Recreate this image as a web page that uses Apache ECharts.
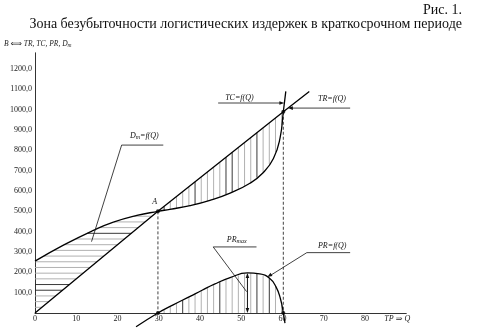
<!DOCTYPE html>
<html><head><meta charset="utf-8">
<script src="https://cdn.jsdelivr.net/npm/echarts/dist/echarts.min.js"></script>
<style>html,body{margin:0;padding:0;background:#fff}#c{width:478px;height:329px}</style>
</head><body><div id="c"></div>
<script>
// ---- data ----
const trQ = [0, 29.8, 60.2, 66.5];
const trV = [0, 500, 990, 1090];
const tcQ = [0, 7, 14, 19, 24.7, 29.8, 32.7, 37.6, 42.4, 47.3, 52.1, 55.3, 57.8, 59.4, 60.2, 60.8];
const tcV = [255, 335, 405, 447, 480, 500, 510, 528, 554, 590, 638, 690, 760, 860, 990, 1090];
const prQ = [24.5, 29.8, 33.5, 37.6, 40.5, 43.5, 47.3, 51.5, 54.5, 56.8, 58.4, 59.5, 60.2, 60.6];
const prV = [-68, 0, 40, 82, 112, 142, 174, 197, 192, 172, 130, 70, 0, -50];
const pointQ = [29.8, 29.8, 60.2, 60.2];
const pointV = [500, 0, 990, 0];
const prMaxQ = 51.5, prMaxV = 197;
const xTickValues = [0, 10, 20, 30, 40, 50, 60, 70, 80, 90];
const xTickLabels = ['0', '10', '20', '30', '40', '50', '60', '70', '80', '{i|TP ⇒ Q}'];
const yTickValues = [100, 200, 300, 400, 500, 600, 700, 800, 900, 1000, 1100, 1200];
const yTickLabels = ['100,0', '200,0', '300,0', '400,0', '500,0', '600,0', '700,0', '800,0', '900,0', '1000,0', '1100,0', '1200,0'];
const titleTop = 'Рис. 1.';
const titleMain = 'Зона безубыточности логистических издержек в краткосрочном периоде';

// ---- helpers ----
const zip = (a, b) => a.map((v, i) => [v, b[i]]);
function interp(xs, ys, x) {
  for (let i = 0; i < xs.length - 1; i++) {
    if (x >= xs[i] && x <= xs[i + 1]) return ys[i] + (ys[i + 1] - ys[i]) * (x - xs[i]) / (xs[i + 1] - xs[i]);
  }
  return null;
}
function inverse(xs, ys, v) {
  for (let i = 0; i < ys.length - 1; i++) {
    if (v >= ys[i] && v <= ys[i + 1]) return xs[i] + (xs[i + 1] - xs[i]) * (v - ys[i]) / (ys[i + 1] - ys[i]);
  }
  return null;
}
// hatch segments derived from the curves
const hatch = [];
let k = 0;
for (let v = 28; v < 500; v += 28, k++) {
  const xl = v <= tcV[0] ? 0 : inverse(tcQ, tcV, v);
  const xr = inverse(trQ, trV, v);
  hatch.push([xl, v, xr, v, (k === 3 || k === 4 || k === 13) ? 1 : 0]);
}
k = 0;
for (let q = 31.3; q < 60.2; q += 1.5, k++) {
  const lo = interp(tcQ, tcV, q), hi = interp(trQ, trV, q);
  if (hi > lo) hatch.push([q, lo, q, hi, (k % 5 === 0 || k === 11) ? 1 : 0]);
}
k = 0;
for (let q = 31.3; q < 60.2; q += 1.5, k++) {
  const hi = interp(prQ, prV, q);
  if (hi > 0) hatch.push([q, 0, q, hi, (k % 6 === 3 || k === 17) ? 1 : 0]);
}

const SERIF = '"Liberation Serif", "DejaVu Serif", serif';
const chart = echarts.init(document.getElementById('c'), null, {renderer: 'canvas'});

function annRender(params, api) {
  const c = p => api.coord(p);
  const kids = [];
  const line = (a, b, opt) => {
    const p = c(a), q = c(b);
    kids.push({type: 'line', shape: {x1: p[0], y1: p[1], x2: q[0], y2: q[1]},
      style: Object.assign({stroke: '#111', lineWidth: 0.8}, opt || {})});
  };
  const arrow = (from, tip) => {
    const p = c(from), t = c(tip);
    const dx = t[0] - p[0], dy = t[1] - p[1], L = Math.hypot(dx, dy);
    const ux = dx / L, uy = dy / L, len = 5, w = 1.8;
    const bx = t[0] - ux * len, by = t[1] - uy * len;
    kids.push({type: 'polygon', shape: {points: [[t[0], t[1]], [bx - uy * w, by + ux * w], [bx + uy * w, by - ux * w]]},
      style: {fill: '#111'}});
  };
  const text = (at, str, align, rich) => {
    const p = c(at);
    kids.push({type: 'text', style: {text: str, x: p[0], y: p[1], align: align || 'left', verticalAlign: 'bottom',
      fill: '#111', font: 'italic 8px ' + SERIF, rich: rich || {}}});
  };
  const sub = {a: {fontStyle: 'italic', fontSize: 8, fontFamily: SERIF, fill: '#111'},
               s: {fontStyle: 'italic', fontSize: 6, fontFamily: SERIF, fill: '#111', padding: [3, 0, 0, 0]}};
  // dashed verticals
  line([pointQ[0], pointV[0]], [pointQ[1], pointV[1]], {lineDash: [3, 2]});
  line([pointQ[2], pointV[2]], [pointQ[3], pointV[3]], {lineDash: [3, 2]});
  // PR max double arrow
  line([prMaxQ, prMaxV - 10], [prMaxQ, 10], {lineWidth: 1});
  arrow([prMaxQ, 100], [prMaxQ, prMaxV]);
  arrow([prMaxQ, 100], [prMaxQ, 0]);
  // TC label
  text([46.1, 1040], 'TC=f(Q)');
  line([44.4, 1033], [59.6, 1033]);
  arrow([44.4, 1033], [60.45, 1033]);
  // TR label
  text([68.6, 1035], 'TR=f(Q)');
  line([62.0, 1008], [76.4, 1008]);
  arrow([76.4, 1008], [61.3, 1008]);
  // Dm label
  text([23.0, 847], '{a|D}{s|m}{a|=f(Q)}', 'left', sub);
  line([21.0, 826], [31.1, 826]);
  line([21.0, 826], [13.7, 351]);
  // PR max label
  text([46.5, 339], '{a|PR}{s|max}', 'left', sub);
  line([43.2, 325], [53.7, 325]);
  line([43.2, 325], [51.3, 105]);
  // PR label
  text([68.6, 310], 'PR=f(Q)');
  line([65.9, 297], [76.4, 297]);
  line([65.9, 297], [57.0, 184]);
  arrow([65.9, 297], [56.3, 177]);
  // A
  text([29.0, 525], 'A', 'center');
  return {type: 'group', children: kids};
}

const curve = (name, q, v, smooth) => ({
  type: 'line', name, data: zip(q, v), symbol: 'none', smooth: smooth ? 0.5 : false,
  clip: false, z: 5, lineStyle: {color: '#000', width: 1.3}
});

chart.setOption({
  animation: false,
  backgroundColor: '#fff',
  title: [
    {text: titleTop, right: 16, top: 3, padding: 0,
     textStyle: {fontFamily: SERIF, fontSize: 14, fontWeight: 'normal', color: '#111'}},
    {text: titleMain, right: 16, top: 17, padding: 0,
     textStyle: {fontFamily: SERIF, fontSize: 14, fontWeight: 'normal', color: '#111'}}
  ],
  graphic: [{type: 'text', left: 4, top: 40,
    style: {text: '{a|B }{r|⟺}{a| TR, TC, PR, D}{s|m}', rich: {
      a: {fontStyle: 'italic', fontSize: 7.5, fontFamily: SERIF, fill: '#222'},
      r: {fontSize: 8, fontFamily: '"DejaVu Sans"', fill: '#222'},
      s: {fontStyle: 'italic', fontSize: 5.5, fontFamily: SERIF, fill: '#222', padding: [3, 0, 0, 0]}}}}],
  grid: {left: 35, right: 71.75, top: 52.8, bottom: 16},
  xAxis: {type: 'value', min: 0, max: 90, interval: 10,
    axisLine: {lineStyle: {color: '#333', width: 1}}, axisTick: {show: false}, splitLine: {show: false},
    axisLabel: {margin: 2, fontSize: 8, fontFamily: SERIF, color: '#222',
      formatter: v => { const i = xTickValues.indexOf(v); return i >= 0 ? xTickLabels[i] : ''; },
      rich: {i: {fontStyle: 'italic', fontSize: 8, fontFamily: SERIF, color: '#222', padding: [0, 18, 0, 0]}}}},
  yAxis: {type: 'value', min: 0, max: 1280, interval: 100,
    axisLine: {show: true, lineStyle: {color: '#333', width: 1}}, axisTick: {show: false}, splitLine: {show: false},
    axisLabel: {margin: 3, fontSize: 8, fontFamily: SERIF, color: '#222', showMinLabel: false, showMaxLabel: false,
      formatter: v => { const i = yTickValues.indexOf(v); return i >= 0 ? yTickLabels[i] : ''; }}},
  series: [
    {type: 'custom', name: 'hatch', data: hatch, z: 2, clip: false,
     renderItem: (params, api) => {
       const p1 = api.coord([api.value(0), api.value(1)]);
       const p2 = api.coord([api.value(2), api.value(3)]);
       return {type: 'line', shape: {x1: p1[0], y1: p1[1], x2: p2[0], y2: p2[1]},
         style: {stroke: api.value(4) ? '#222' : '#a8a8a8', lineWidth: 0.9}};
     }},
    curve('TR', trQ, trV, false),
    curve('TC', tcQ, tcV, true),
    curve('PR', prQ, prV, true),
    {type: 'scatter', name: 'points', data: zip(pointQ, pointV), symbolSize: 4, z: 6,
     itemStyle: {color: '#000'}},
    {type: 'custom', name: 'annotations', data: [[0, 0]], z: 7, clip: false, renderItem: annRender}
  ]
});
</script>
</body></html>
